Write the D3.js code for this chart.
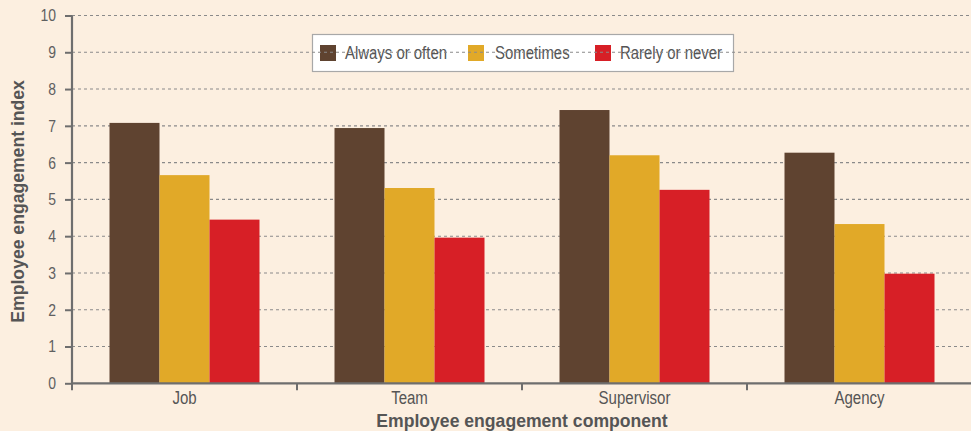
<!DOCTYPE html>
<html>
<head>
<meta charset="utf-8">
<script src="https://cdn.jsdelivr.net/npm/d3@7"></script>
<style>
  html, body { margin: 0; padding: 0; background: #fcefe0; }
  svg { display: block; }
  text { font-family: "Liberation Sans", Arial, sans-serif; }
</style>
</head>
<body>
<svg id="chart" width="971" height="431"></svg>
<script>
// Engagement index by component and frequency
const categories = ["Job", "Team", "Supervisor", "Agency"];
const seriesNames = ["Always or often", "Sometimes", "Rarely or never"];
const alwaysOrOften = [7.08, 6.94, 7.43, 6.27];
const sometimes = [5.66, 5.31, 6.2, 4.33];
const rarelyOrNever = [4.45, 3.96, 5.26, 2.98];
const yTicks = [0, 1, 2, 3, 4, 5, 6, 7, 8, 9, 10];
const colors = ["#5f4330", "#e1a928", "#d71f26"];

const series = [alwaysOrOften, sometimes, rarelyOrNever];

const svg = d3.select("#chart");
const W = 971, H = 431;
const x0 = 72, x1 = 972, yBottom = 383.3, yTop = 15.5;
const FONT = '"Liberation Sans", Arial, sans-serif';

// Horizontal squeeze that makes a sample string span a given width at a given size
function squeeze(sample, size, width, weight) {
  const t = svg.append("text").attr("font-size", size).attr("font-weight", weight || "normal")
    .style("font-family", FONT).text(sample);
  const w = t.node().getComputedTextLength();
  t.remove();
  return width / w;
}
// Condensed look: narrow every text of a selection by the same factor
function condense(sel, k) {
  sel.each(function () {
    const w = this.getComputedTextLength();
    d3.select(this).attr("textLength", w * k).attr("lengthAdjust", "spacingAndGlyphs");
  });
}

const sizeTickY = 17, sizeTickX = 18, sizeLegend = 17.5, sizeTitle = 18.5;
const kTickY = squeeze("10", sizeTickY, 15.5);
const kTickX = (squeeze("Supervisor", sizeTickX, 72) + squeeze("Agency", sizeTickX, 50)) / 2;
const kLegend = squeeze("Always or often", sizeLegend, 102);
const kTitle = (squeeze("Employee engagement component", sizeTitle, 292, "bold") +
                squeeze("Employee engagement index", sizeTitle, 242, "bold")) / 2;

svg.append("rect").attr("width", W).attr("height", H).attr("fill", "#fcefe0");

const x = d3.scaleBand().domain(categories).range([x0, x1]).paddingInner(0).paddingOuter(0);
const xs = d3.scaleBand().domain(d3.range(series.length)).range([0, x.bandwidth()]).paddingInner(0).paddingOuter(0.75);
const y = d3.scaleLinear().domain([0, 10]).range([yBottom, yTop]);

// Legend box (grid lines pass over it)
const legend = svg.append("g");
legend.append("rect")
  .attr("x", 312.5).attr("y", 34.5).attr("width", 421).attr("height", 37)
  .attr("fill", "#ffffff").attr("stroke", "#a8a8a8").attr("stroke-width", 1.2);

// Grid
svg.append("g").selectAll("line").data(yTicks.filter(d => d > 0)).join("line")
  .attr("x1", x0).attr("x2", W)
  .attr("y1", d => y(d)).attr("y2", d => y(d))
  .attr("stroke", "#8a8a8a").attr("stroke-width", 1.1)
  .attr("stroke-dasharray", "3,3");

// Legend entries
const legendX = [320, 468, 595];
const legendTextX = [345, 495, 620];
seriesNames.forEach((name, i) => {
  legend.append("rect").attr("x", legendX[i]).attr("y", 45).attr("width", 16).attr("height", 16).attr("fill", colors[i]);
  legend.append("text").attr("class", "legend-label").attr("x", legendTextX[i]).attr("y", 58.5)
    .attr("font-size", sizeLegend).attr("fill", "#555").text(name);
});
condense(legend.selectAll(".legend-label"), kLegend);

// Bars
const groups = svg.append("g").selectAll("g").data(categories).join("g")
  .attr("transform", d => `translate(${x(d)},0)`);
series.forEach((vals, si) => {
  groups.append("rect")
    .attr("x", xs(si))
    .attr("width", xs.bandwidth())
    .attr("y", (d, ci) => y(vals[ci]))
    .attr("height", (d, ci) => y(0) - y(vals[ci]))
    .attr("fill", colors[si]);
});

// Y axis
const yAxis = svg.append("g").attr("transform", `translate(${x0},0)`)
  .call(d3.axisLeft(y).tickValues(yTicks).tickSize(7).tickPadding(9).tickFormat(d3.format("d")));
yAxis.select(".domain").attr("stroke", "#6e6e6e").attr("stroke-width", 2.2).attr("d", `M0,${yTop}V${yBottom}`);
yAxis.selectAll(".tick line").attr("stroke", "#6e6e6e").attr("stroke-width", 2);
yAxis.selectAll(".tick text").attr("font-size", sizeTickY).attr("fill", "#606060").style("font-family", FONT);
condense(yAxis.selectAll(".tick text"), kTickY);

// X axis
const xAxis = svg.append("g").attr("transform", `translate(0,${yBottom})`)
  .call(d3.axisBottom(x).tickSize(0).tickPadding(8));
xAxis.select(".domain").attr("stroke", "#6e6e6e").attr("stroke-width", 2.2).attr("d", `M${x0},0H${W}`);
xAxis.selectAll(".tick text").attr("font-size", sizeTickX).attr("fill", "#555").style("font-family", FONT);
condense(xAxis.selectAll(".tick text"), kTickX);
svg.append("g").selectAll("line").data(categories).join("line")
  .attr("x1", d => x(d)).attr("x2", d => x(d))
  .attr("y1", yBottom).attr("y2", yBottom + 7)
  .attr("stroke", "#6e6e6e").attr("stroke-width", 2);

// Axis titles
const titles = svg.append("g");
titles.append("text")
  .attr("transform", `translate(24,${(yTop + yBottom) / 2 + 2}) rotate(-90)`)
  .attr("text-anchor", "middle").attr("font-size", sizeTitle).attr("font-weight", "bold")
  .attr("fill", "#555").text("Employee engagement index");
titles.append("text")
  .attr("x", 522).attr("y", 426.5)
  .attr("text-anchor", "middle").attr("font-size", sizeTitle).attr("font-weight", "bold")
  .attr("fill", "#555").text("Employee engagement component");
condense(titles.selectAll("text"), kTitle);
</script>
</body>
</html>
